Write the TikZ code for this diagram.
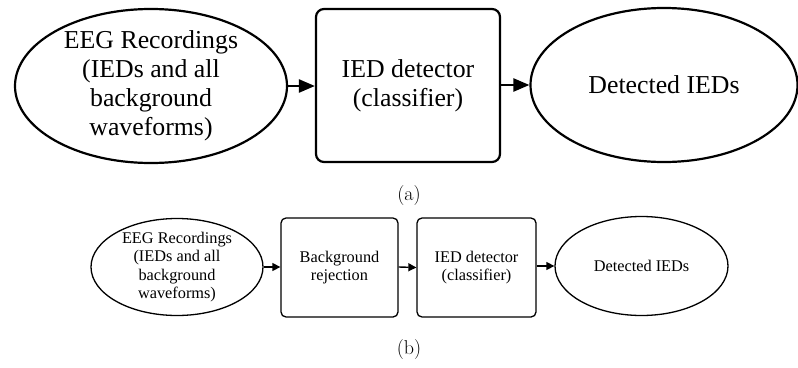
\documentclass[tikz,border=0pt]{standalone}
\usepackage{fontspec}
\newfontfamily\tms{Liberation Serif}
\usetikzlibrary{shapes.geometric,arrows.meta}
\tikzset{
  bigtxt/.style={font=\tms\fontsize{25.8}{29}\selectfont, align=center, inner sep=0pt},
  smalltxt/.style={font=\tms\fontsize{16.3}{18.6}\selectfont, align=center, inner sep=0pt},
  bigell/.style={draw, ellipse, line width=2.2pt, inner sep=0pt},
  bigbox/.style={draw, rectangle, rounded corners=8pt, line width=2.2pt, inner sep=0pt, bigtxt},
  smallell/.style={draw, ellipse, line width=1.3pt, inner sep=0pt},
  smallbox/.style={draw, rectangle, rounded corners=5pt, line width=1.3pt, inner sep=0pt, smalltxt},
  bigarr/.style={line width=2.4pt, -{Triangle[length=16pt,width=13pt]}},
  smallarr/.style={line width=1.4pt, -{Triangle[length=8pt,width=8pt]}},
  subcaption/.style={font=\fontsize{20}{24}\selectfont, inner sep=0pt}
}
\begin{document}
\begin{tikzpicture}[x=1pt,y=-1pt]
\useasboundingbox (0,0) rectangle (798,367);
% (a)
\node[bigell, minimum width=272pt, minimum height=154pt,
  label={[bigtxt]center:{EEG Recordings\\(IEDs and all\\background\\waveforms)}}] (e1) at (151,86) {};
\node[bigbox, minimum width=184pt, minimum height=153pt] (b1) at (408,85.5) {IED detector\\(classifier)};
\node[bigell, minimum width=267pt, minimum height=154pt,
  label={[bigtxt]center:{Detected IEDs}}] (e2) at (664,85) {};
\draw[bigarr] (e1.east) -- (e1.east -| b1.west);
\draw[bigarr] (b1.east |- e2.west) -- (e2.west);
\node[subcaption] (ca) at (409,196) {(a)};
% (b)
\node[smallell, minimum width=172pt, minimum height=97pt,
  label={[smalltxt]center:{EEG Recordings\\(IEDs and all\\background\\waveforms)}}] (e3) at (177,267) {};
\node[smallbox, minimum width=117pt, minimum height=99pt] (b2) at (339.5,267.5) {Background\\rejection};
\node[smallbox, minimum width=119pt, minimum height=99pt] (b3) at (476.5,267.5) {IED detector\\(classifier)};
\node[smallell, minimum width=173pt, minimum height=99pt,
  label={[smalltxt]center:{Detected IEDs}}] (e4) at (641.5,266) {};
\draw[smallarr] (e3.east) -- (e3.east -| b2.west);
\draw[smallarr] (b2.east |- e3.east) -- (b2.east -| b3.west);
\draw[smallarr] (b3.east |- e4.west) -- (e4.west);
\node[subcaption] (cb) at (409,350) {(b)};
\end{tikzpicture}
\end{document}
